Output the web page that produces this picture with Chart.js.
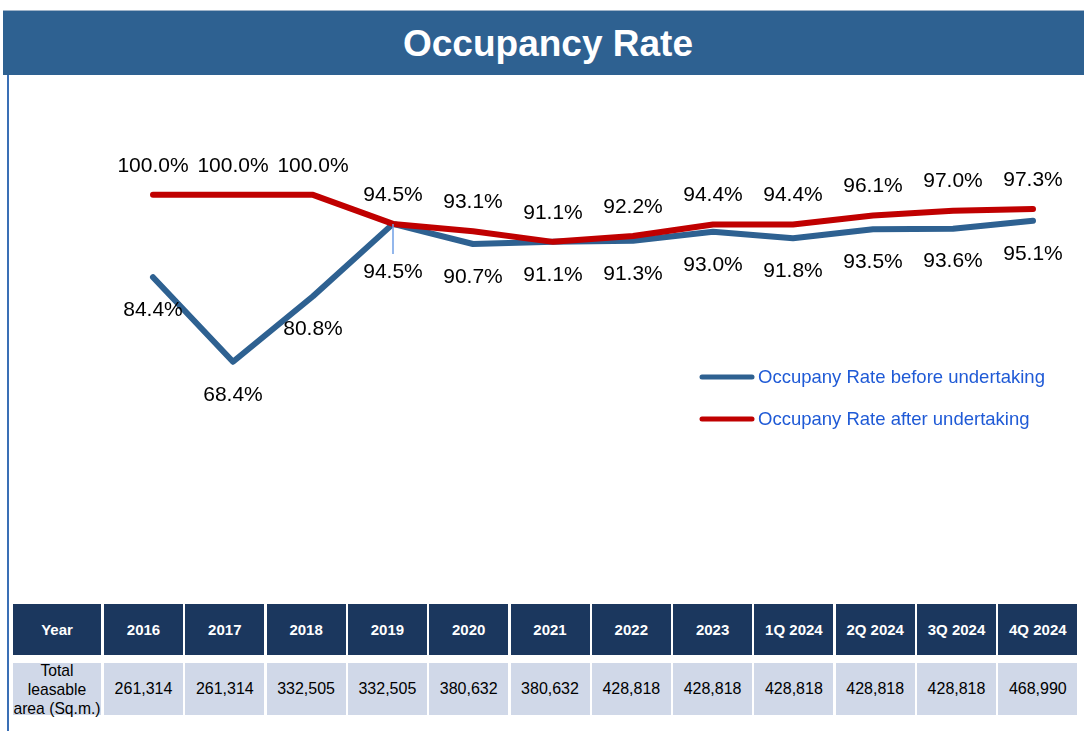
<!DOCTYPE html>
<html>
<head>
<meta charset="utf-8">
<script src="https://cdn.jsdelivr.net/npm/chart.js@4.4.1/dist/chart.umd.min.js"></script>
<style>
  html, body { margin:0; padding:0; background:#fff; width:1084px; height:731px; overflow:hidden; font-family:"Liberation Sans", Arial, sans-serif; }
  #titlebar { position:absolute; left:3px; top:10px; width:1081px; height:65px; background:#2E6191; color:#fff; font-weight:bold; font-size:37px; line-height:65px; text-align:center; box-sizing:border-box; padding-left:9px; border-top:1px solid #9FB3C8; }
  #leftline { position:absolute; left:7px; top:75px; width:2px; height:656px; background:#3A6FB5; }
  #chartwrap { position:absolute; left:0; top:0; width:1084px; height:600px; }
  .cell { position:absolute; box-sizing:border-box; display:flex; align-items:center; justify-content:center; text-align:center; }
  .hd { background:#1B375E; color:#fff; font-weight:bold; font-size:15px; }
  .dt { background:#D0D8E8; color:#000; font-size:16px; }
  .rowlab { font-size:15.7px; line-height:19px; }
</style>
</head>
<body>
<div id="titlebar">Occupancy Rate</div>
<div id="leftline"></div>
<div id="chartwrap"><canvas id="c" width="1084" height="600"></canvas></div>
<div id="table"></div>
<script>
const categories = ["2016","2017","2018","2019","2020","2021","2022","2023","1Q 2024","2Q 2024","3Q 2024","4Q 2024"];
const beforeUndertaking = [84.4, 68.4, 80.8, 94.5, 90.7, 91.1, 91.3, 93.0, 91.8, 93.5, 93.6, 95.1];
const afterUndertaking  = [100.0, 100.0, 100.0, 94.5, 93.1, 91.1, 92.2, 94.4, 94.4, 96.1, 97.0, 97.3];
const leasableArea = ["261,314","261,314","332,505","332,505","380,632","380,632","428,818","428,818","428,818","428,818","428,818","468,990"];
const seriesNames = ["Occupany Rate before undertaking", "Occupany Rate after undertaking"];
const rowHeader = "Year";
const rowLabel = "Total<br>leasable<br>area (Sq.m.)";

const BLUE = "#2E6191";
const RED = "#C00000";
const FONT = '"Liberation Sans", Arial, sans-serif';

const labelPlugin = {
  id: 'valueLabels',
  afterDatasetsDraw(chart) {
    const ctx = chart.ctx;
    ctx.save();
    ctx.font = '21px ' + FONT;
    ctx.fillStyle = '#000';
    ctx.textAlign = 'center';
    ctx.textBaseline = 'middle';
    const mb = chart.getDatasetMeta(0);
    const mr = chart.getDatasetMeta(1);
    mb.data.forEach((pt, i) => {
      const v = chart.data.datasets[0].data[i];
      const same = v === chart.data.datasets[1].data[i] && i === 3;
      let dy = same ? 48 : 33;
      if (same) {
        ctx.save();
        ctx.strokeStyle = '#6F9FE6';
        ctx.lineWidth = 1.5;
        ctx.beginPath();
        ctx.moveTo(pt.x, pt.y);
        ctx.lineTo(pt.x, pt.y + 30);
        ctx.stroke();
        ctx.restore();
      }
      ctx.fillText(v.toFixed(1) + '%', pt.x, pt.y + dy);
    });
    mr.data.forEach((pt, i) => {
      const v = chart.data.datasets[1].data[i];
      ctx.fillText(v.toFixed(1) + '%', pt.x, pt.y - 29);
    });
    const items = [[BLUE, chart.data.datasets[0].label, 377], [RED, chart.data.datasets[1].label, 419]];
    items.forEach(([col, txt, y]) => {
      ctx.strokeStyle = col;
      ctx.lineWidth = 5;
      ctx.lineCap = 'round';
      ctx.beginPath();
      ctx.moveTo(702, y);
      ctx.lineTo(752, y);
      ctx.stroke();
      ctx.fillStyle = '#1F5AD6';
      ctx.font = '18.5px ' + FONT;
      ctx.textAlign = 'left';
      ctx.fillText(txt, 758, y + 1);
    });
    ctx.restore();
  }
};

new Chart(document.getElementById('c'), {
  type: 'line',
  data: {
    labels: categories,
    datasets: [
      { label: seriesNames[0], data: beforeUndertaking, borderColor: BLUE, borderWidth: 6, pointRadius: 0, tension: 0, order: 1, borderJoinStyle: 'round', borderCapStyle: 'round' },
      { label: seriesNames[1], data: afterUndertaking, borderColor: RED, borderWidth: 6, pointRadius: 0, tension: 0, order: 0, borderJoinStyle: 'round', borderCapStyle: 'round' }
    ]
  },
  options: {
    responsive: false,
    animation: false,
    devicePixelRatio: 1,
    layout: { padding: { left: 153, right: 51, top: 142, bottom: 141 } },
    scales: {
      x: { display: false, offset: false },
      y: { display: false, min: 50, max: 110 }
    },
    plugins: { legend: { display: false }, tooltip: { enabled: false } },
    clip: false
  },
  plugins: [labelPlugin]
});

const tbl = document.getElementById('table');
function addCell(cls, html, left, top, w, h) {
  const d = document.createElement('div');
  d.className = 'cell ' + cls;
  d.style.left = left + 'px'; d.style.top = top + 'px';
  d.style.width = w + 'px'; d.style.height = h + 'px';
  d.innerHTML = html;
  tbl.appendChild(d);
}
const hTop = 604, hH = 51, dTop = 663, dH = 52;
addCell('hd', rowHeader, 13, hTop, 88, hH);
addCell('dt rowlab', rowLabel, 13, dTop, 88, dH);
categories.forEach((c, i) => {
  const left = 104 + i * 81.3;
  addCell('hd', c, left, hTop, 79, hH);
  addCell('dt', leasableArea[i], left, dTop, 79, dH);
});
</script>
</body>
</html>
